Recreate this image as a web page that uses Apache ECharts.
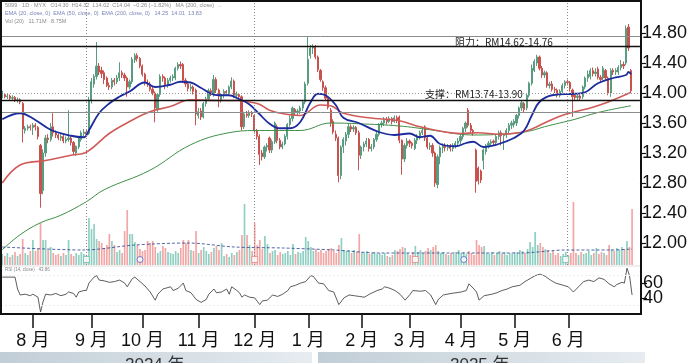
<!DOCTYPE html>
<html>
<head>
<meta charset="utf-8">
<script src="https://cdn.jsdelivr.net/npm/echarts@6/dist/echarts.min.js"></script>
<style>
html,body{margin:0;padding:0;background:#fff}
#main{width:690px;height:363px}
</style>
</head>
<body>
<div id="main"></div>
<script>
// axis ticks
var priceTicks = [12.0, 12.4, 12.8, 13.2, 13.6, 14.0, 14.4, 14.8];
var rsiTicks = [40, 60];
var rsiBands = [30, 70];
var monthIdx = [12, 35, 55, 77, 99, 120, 141, 160, 180, 201, 222];
var monthLbl = ['8 月', '9 月', '10 月', '11 月', '12 月', '1 月', '2 月', '3 月', '4 月', '5 月', '6 月'];
var slotCount = 251;

// daily candles [open, close, low, high]
var candles = [
 [13.96,13.98,13.93,14.03],[13.98,13.95,13.93,14.00],[13.95,13.96,13.92,13.99],[13.96,13.93,13.90,13.98],[13.93,13.94,13.90,13.97],[13.94,13.90,13.88,13.96],[13.90,13.91,13.87,13.94],[13.91,13.88,13.85,13.93],
 [13.86,13.52,13.34,13.88],[13.50,13.53,13.46,13.56],[13.53,13.55,13.50,13.58],[13.55,13.54,13.50,13.58],[13.54,13.57,13.44,13.60],[13.57,13.55,13.50,13.60],[13.54,13.42,13.38,13.56],[13.30,12.66,12.47,13.32],
 [12.70,13.20,12.65,13.25],[13.20,13.40,13.15,13.44],[13.40,13.38,13.33,13.45],[13.38,13.55,13.35,13.60],[13.55,13.47,13.42,13.73],[13.47,13.44,13.40,13.50],[13.44,13.40,13.37,13.46],[13.40,13.42,13.36,13.45],
 [13.42,13.36,13.33,13.44],[13.36,13.38,13.33,13.42],[13.38,13.40,13.35,13.77],[13.40,13.34,13.30,13.42],[13.34,13.22,13.17,13.36],[13.20,13.29,13.16,13.30],[13.28,13.40,13.25,13.42],[13.38,13.47,13.35,13.50],
 [13.46,13.48,13.42,13.52],[13.48,13.45,13.42,13.52],[13.46,13.90,13.44,13.95],[13.90,14.15,13.86,14.20],[14.12,14.22,14.07,14.25],[14.22,14.36,14.18,14.68],[14.36,14.28,14.24,14.40],[14.30,14.26,14.20,14.35],
 [14.27,14.18,14.12,14.30],[14.20,14.10,14.08,14.22],[14.10,14.08,14.04,14.14],[14.08,14.17,14.05,14.20],[14.17,14.15,14.10,14.20],[14.15,14.20,14.12,14.24],[14.20,14.27,14.16,14.41],[14.27,14.24,14.20,14.30],
 [14.24,14.20,14.16,14.27],[14.20,14.08,13.95,14.22],[14.08,14.15,14.05,14.18],[14.15,14.45,14.12,14.48],[14.44,14.50,14.40,14.53],[14.50,14.46,14.42,14.53],[14.46,14.36,14.33,14.48],[14.36,14.25,14.22,14.38],
 [14.25,14.14,14.10,14.27],[14.14,14.12,14.08,14.18],[14.12,14.05,14.02,14.15],[14.05,14.00,13.97,14.08],[14.00,13.80,13.61,14.02],[13.78,13.98,13.75,14.00],[13.98,14.22,13.95,14.25],[14.22,14.20,14.15,14.25],
 [14.20,14.10,14.05,14.22],[14.10,14.17,14.07,14.20],[14.17,14.20,14.14,14.23],[14.20,14.22,14.16,14.25],[14.20,14.33,14.17,14.35],[14.33,14.38,14.30,14.41],[14.38,14.36,14.32,14.42],[14.38,14.17,14.14,14.40],
 [14.17,14.12,14.08,14.20],[14.12,14.06,14.02,14.14],[14.06,14.08,14.02,14.12],[14.08,14.02,13.98,14.10],[14.04,13.72,13.57,14.06],[13.70,13.75,13.66,13.80],[13.76,13.68,13.64,13.80],[13.68,13.86,13.66,13.88],
 [13.86,13.92,13.82,13.95],[13.92,14.03,13.90,14.06],[14.03,14.00,13.96,14.06],[13.98,14.18,13.95,14.24],[14.18,14.04,14.00,14.21],[14.04,13.96,13.81,14.06],[13.90,13.98,13.87,14.00],[13.98,14.02,13.93,14.05],
 [14.02,14.00,13.96,14.04],[14.00,14.08,13.97,14.10],[14.08,14.16,14.05,14.21],[14.16,13.97,13.93,14.18],[13.97,13.98,13.92,14.02],[13.98,13.95,13.90,14.00],[13.95,13.55,13.50,13.97],[13.55,13.72,13.52,13.75],
 [13.72,13.70,13.67,13.76],[13.70,13.74,13.67,13.77],[13.74,13.72,13.68,13.76],[13.70,13.50,13.46,13.72],[13.50,13.42,13.38,13.52],[13.42,13.18,13.04,13.45],[13.20,13.15,13.10,13.24],[13.15,13.28,13.12,13.30],
 [13.28,13.30,13.22,13.33],[13.40,13.24,13.20,13.42],[13.24,13.35,13.20,13.38],[13.35,13.60,13.32,13.62],[13.55,13.37,13.33,13.58],[13.37,13.28,13.25,13.40],[13.28,13.32,13.25,13.35],[13.32,13.42,13.30,13.45],
 [13.42,13.58,13.38,13.60],[13.58,13.66,13.55,13.70],[13.66,13.80,13.62,13.82],[13.78,13.74,13.70,13.80],[13.74,13.76,13.70,13.79],[13.76,13.80,13.72,13.83],[13.80,13.88,13.76,13.90],[13.88,14.12,13.85,14.15],
 [14.13,14.45,14.10,14.75],[14.50,14.60,14.46,14.64],[14.60,14.62,14.52,14.65],[14.62,14.48,14.45,14.64],[14.48,14.31,14.28,14.50],[14.30,14.18,14.15,14.32],[14.15,14.07,14.03,14.17],[14.07,13.93,13.90,14.10],
 [13.93,13.81,13.78,13.96],[13.77,13.60,13.55,13.80],[13.62,13.48,13.45,13.65],[13.45,13.40,13.36,13.50],[13.40,12.90,12.81,13.42],[12.90,13.28,12.85,13.30],[13.28,13.38,13.20,13.41],[13.36,13.45,13.30,13.48],
 [13.45,13.55,13.40,13.60],[13.55,13.52,13.48,13.58],[13.52,13.54,13.48,13.57],[13.54,13.47,13.44,13.56],[13.47,13.17,12.97,13.50],[13.17,13.28,13.12,13.30],[13.28,13.32,13.22,13.35],[13.32,13.36,13.28,13.40],
 [13.38,13.26,13.22,13.40],[13.26,13.28,13.22,13.32],[13.28,13.38,13.25,13.40],[13.38,13.45,13.35,13.48],[13.45,13.58,13.42,13.60],[13.58,13.60,13.54,13.63],[13.60,13.65,13.56,13.68],[13.65,13.62,13.58,13.68],
 [13.62,13.66,13.60,13.69],[13.66,13.62,13.58,13.68],[13.62,13.67,13.60,13.70],[13.67,13.64,13.60,13.70],[13.68,13.37,13.33,13.70],[13.37,13.12,12.91,13.38],[13.12,13.30,13.08,13.33],[13.30,13.36,13.26,13.40],
 [13.36,13.33,13.28,13.38],[13.33,13.30,13.26,13.35],[13.26,13.37,13.24,13.40],[13.37,13.42,13.32,13.45],[13.42,13.47,13.38,13.50],[13.47,13.50,13.44,13.55],[13.55,13.40,13.36,13.57],[13.40,13.28,13.25,13.42],
 [13.28,13.30,13.24,13.34],[13.30,13.20,13.15,13.33],[13.20,12.80,12.75,13.22],[12.78,13.15,12.73,13.18],[13.15,13.27,13.05,13.30],[13.27,13.30,13.20,13.33],[13.30,13.27,13.22,13.33],[13.27,13.28,13.23,13.32],
 [13.30,13.26,13.22,13.32],[13.26,13.30,13.22,13.33],[13.30,13.33,13.26,13.36],[13.33,13.36,13.28,13.40],[13.36,13.42,13.32,13.45],[13.42,13.53,13.38,13.55],[13.53,13.60,13.48,13.62],[13.77,13.57,13.54,13.80],
 [13.57,13.50,13.46,13.60],[13.50,13.47,13.43,13.52],[13.24,12.82,12.67,13.26],[13.00,12.83,12.78,13.02],[12.96,12.84,12.80,12.98],[13.10,13.24,12.98,13.26],[13.22,13.30,13.18,13.32],[13.30,13.33,13.26,13.36],
 [13.33,13.35,13.30,13.38],[13.36,13.34,13.30,13.38],[13.34,13.42,13.30,13.44],[13.42,13.47,13.38,13.50],[13.47,13.43,13.30,13.50],[13.43,13.44,13.24,13.46],[13.44,13.50,13.40,13.53],[13.50,13.57,13.46,13.60],
 [13.57,13.60,13.52,13.63],[13.58,13.62,13.54,13.65],[13.60,13.70,13.56,13.72],[13.70,13.80,13.66,13.82],[13.80,13.87,13.76,13.90],[13.86,13.78,13.74,13.88],[13.80,13.97,13.77,14.00],[13.97,14.13,13.94,14.15],
 [14.13,14.33,14.10,14.38],[14.30,14.42,14.28,14.45],[14.40,14.48,14.36,14.51],[14.48,14.33,14.30,14.50],[14.33,14.24,14.20,14.36],[14.24,14.27,14.20,14.30],[14.27,14.10,14.07,14.29],[14.10,14.12,14.06,14.15],
 [14.12,14.05,14.02,14.16],[14.05,14.04,14.00,14.08],[14.04,13.97,13.94,14.06],[13.97,14.02,13.94,14.05],[14.02,14.10,13.98,14.13],[14.10,14.15,14.06,14.17],[14.15,14.14,14.10,14.18],[14.14,14.06,14.02,14.16],
 [14.04,13.95,13.68,14.06],[13.97,13.94,13.90,14.00],[13.94,13.96,13.90,13.98],[13.96,13.93,13.90,13.98],[13.95,14.08,13.92,14.10],[14.08,14.20,14.05,14.22],[14.20,14.25,14.15,14.30],[14.22,14.30,14.18,14.33],
 [14.30,14.26,14.22,14.34],[14.26,14.28,14.22,14.33],[14.32,14.21,14.18,14.35],[14.21,14.18,14.14,14.24],[14.20,14.33,14.17,14.36],[14.30,14.20,14.16,14.32],[14.20,14.00,13.97,14.22],[14.00,14.30,13.95,14.33],
 [14.30,14.28,14.24,14.33],[14.28,14.30,14.24,14.33],[14.28,14.34,14.24,14.37],[14.34,14.38,14.30,14.44],[14.38,14.36,14.32,14.42],[14.40,14.86,14.37,14.90],[14.88,14.60,14.56,14.92],[14.30,14.03,14.00,14.32]
];

// daily volume (relative units)
var volumes = [
 11,9,12,8,10,13,9,11,  26,12,10,14,25,14,16,42,  25,25,15,18,12,10,11,9,  12,10,25,11,9,12,10,13,
 11,10,47,36,41,26,24,22,  17,20,31,24,20,13,15,12,  34,55,31,31,23,20,16,14,  15,24,22,24,18,12,14,19,
 17,13,12,11,14,12,17,25,  22,25,15,14,34,12,15,18,  14,11,13,17,19,15,22,9,  11,8,12,10,13,15,30,61,
 30,20,14,42,20,25,16,29,  21,12,14,15,10,13,11,12,  14,10,21,11,13,12,14,28,  24,18,14,16,13,15,12,14,
 16,17,14,12,20,27,15,14,  15,12,15,13,31,13,12,14,  11,12,13,11,12,10,12,9,  8,10,15,14,16,18,17,12,
 10,13,19,13,15,12,14,17,  15,18,20,14,12,13,11,10,  12,11,13,15,12,13,11,14,  12,10,25,20,18,19,12,11,
 13,10,12,14,11,13,10,12,  11,13,12,15,14,12,16,23,  18,33,20,22,18,16,15,12,  14,10,12,9,11,13,10,12,
 63,12,10,13,11,12,14,10,  12,17,11,13,12,10,20,16,  14,17,15,18,16,24,18,56
];

// moving averages read at [day index, price]
var maFast = [[0,13.65],[7,13.73],[13,13.64],[19,13.51],[27,13.43],[32,13.41],[34,13.5],[38,13.73],[42,13.86],[46,13.95],[50,14.02],[56,14.14],[60,14.08],[66,14.11],[70,14.15],[74,14.14],[78,14.07],[82,13.99],[85,13.97],[89,13.97],[93,13.92],[97,13.85],[101,13.72],[105,13.59],[109,13.53],[113,13.53],[117,13.61],[121,13.87],[124,13.99],[127,13.97],[131,13.84],[134,13.67],[140,13.6],[148,13.48],[154,13.44],[160,13.46],[164,13.41],[168,13.43],[172,13.32],[178,13.29],[182,13.33],[185,13.35],[189,13.28],[195,13.32],[201,13.4],[205,13.5],[208,13.7],[211,13.88],[216,13.97],[225,13.99],[229,14.01],[234,14.13],[240,14.2],[245,14.24],[246,14.28],[247,14.25]];
var maMid = [[0,12.8],[7,13.04],[17,13.1],[27,13.17],[33,13.21],[42,13.46],[50,13.62],[58,13.75],[66,13.82],[74,13.91],[85,13.9],[93,13.9],[97,13.88],[101,13.85],[105,13.77],[111,13.72],[117,13.7],[125,13.84],[129,13.83],[134,13.73],[144,13.67],[156,13.63],[164,13.55],[174,13.48],[180,13.46],[187,13.47],[195,13.45],[203,13.47],[208,13.52],[213,13.6],[219,13.69],[225,13.75],[231,13.8],[238,13.88],[247,14.01]];
var maSlow = [[0,11.91],[7,12.11],[15,12.27],[23,12.37],[33,12.55],[40,12.71],[58,12.97],[74,13.31],[89,13.47],[101,13.5],[117,13.5],[129,13.6],[140,13.59],[156,13.56],[168,13.51],[180,13.45],[187,13.44],[196,13.45],[203,13.47],[208,13.5],[213,13.55],[219,13.6],[225,13.65],[234,13.74],[247,13.83]];
var volMa = [[0,18],[32,15],[52,20],[73,22],[91,18],[110,17],[130,15],[148,12],[170,12],[187,12],[203,12],[221,15],[239,15],[247,16]];

// RSI read at [day index, value]
var rsi = [[0,68],[5,68],[6,52],[7,44],[9,45],[11,43],[12,45],[14,41],[15,21],[16,35],[17,45],[19,44],[21,46],[23,43],[25,45],[26,48],[28,46],[29,41],[30,48],[32,50],[33,50],[34,60],[36,68],[37,70],[38,64],[40,63],[42,61],[44,62],[46,64],[48,60],[49,55],[51,66],[52,68],[54,62],[56,56],[58,48],[60,37],[61,45],[63,52],[64,53],[66,55],[67,50],[69,53],[71,60],[72,50],[74,47],[76,38],[78,34],[80,38],[81,45],[83,52],[84,47],[86,48],[88,52],[89,45],[90,55],[92,50],[93,47],[94,41],[95,44],[97,41],[99,40],[101,31],[102,36],[104,37],[106,44],[108,42],[110,45],[112,50],[113,55],[115,57],[117,60],[119,62],[121,70],[122,69],[124,60],[126,59],[128,50],[130,48],[132,31],[134,40],[136,44],[138,43],[140,42],[142,41],[144,45],[147,50],[149,52],[150,55],[152,53],[154,50],[156,45],[158,37],[160,45],[161,50],[164,49],[166,50],[168,44],[170,31],[171,38],[173,44],[176,46],[178,47],[180,48],[182,50],[183,59],[185,52],[186,48],[187,37],[189,43],[192,45],[194,47],[196,50],[198,52],[200,55],[203,57],[205,62],[207,66],[209,70],[211,72],[213,69],[215,64],[217,60],[220,57],[222,55],[224,48],[226,55],[228,62],[230,64],[232,62],[234,67],[236,65],[238,59],[240,55],[241,58],[243,61],[244,60],[245,80],[246,70],[247,44]];

// levels and markers
var resistance = [14.62, 14.76];
var support = [13.74, 13.90];
var lastPrice = 14.00;
var sessionIdx = [33, 99, 222];
var eventIdx = [33, 54, 99, 162, 181, 221];
var eventKind = ['D', 'E', 'S', 'S', 'E', 'D'];

var upColor = '#5a9c80', downColor = '#c8524e';
var volUp = '#8fd0c3', volDown = '#f3a6a6';
var axisFont = "'Liberation Sans Narrow','Arial Narrow','Liberation Sans','Noto Sans CJK SC',sans-serif";
var cjkFont = "'Noto Sans CJK SC',sans-serif";

var cats = [];
for (var i = 0; i < slotCount; i++) cats.push(String(i));

var volData = volumes.map(function (v, i) {
    var c = candles[i];
    return {value: v, itemStyle: {color: c[1] >= c[0] ? volUp : volDown}};
});

var kindStyle = {
    D: {symbol: 'rect', color: '#6cc0b0'},
    E: {symbol: 'circle', color: '#4a5fc8'},
    S: {symbol: 'rect', color: '#e88a8a'}
};
var eventData = eventIdx.map(function (idx, k) {
    var s = kindStyle[eventKind[k]];
    return {value: [idx, 5.5], symbol: s.symbol,
        itemStyle: {color: '#fff', borderColor: s.color, borderWidth: 1}};
});

var levelLines = [
    {yAxis: resistance[1], lineStyle: {color: '#8c8c8c', width: 1, type: 'solid'}},
    {yAxis: resistance[0], lineStyle: {color: '#111', width: 1.4, type: 'solid'}},
    {yAxis: support[1], lineStyle: {color: '#111', width: 1.4, type: 'solid'}},
    {yAxis: support[0], lineStyle: {color: '#8c8c8c', width: 1, type: 'solid'}},
    {yAxis: lastPrice, lineStyle: {color: '#9a9a9a', width: 1, type: [1, 2]}}
];
sessionIdx.forEach(function (idx) {
    levelLines.push({xAxis: idx, lineStyle: {color: '#8a8a8a', width: 1, type: [1, 2]}});
});

function isMonth(idx) { return monthIdx.indexOf(idx) >= 0; }

function hiddenX(g) {
    return {type: 'category', gridIndex: g, data: cats, boundaryGap: true, show: false};
}

// one RSI axis per tick so neither label gets dropped for overlap
function rsiAxis(tick) {
    return {
        type: 'value', gridIndex: 2, position: 'right', min: 17, max: 83,
        axisLine: {show: false}, splitLine: {show: false},
        axisTick: {show: true, length: 6, customValues: [tick], lineStyle: {color: '#111', width: 1.2}},
        axisLabel: {show: true, customValues: [tick], margin: 2, fontSize: 18, color: '#111',
            fontFamily: axisFont}
    };
}

function txt(x, y, s, size, color, font) {
    return {type: 'text', x: x, y: y, silent: true, z: 50,
        style: {text: s, fontSize: size, fill: color, fontFamily: font || axisFont, verticalAlign: 'top'}};
}

var chart = echarts.init(document.getElementById('main'));
chart.setOption({
    animation: false,
    grid: [
        {left: 1, right: 49, top: 3, height: 262},
        {left: 1, right: 49, top: 200, height: 65},
        {left: 1, right: 49, top: 266, height: 49}
    ],
    xAxis: [
        hiddenX(0),
        hiddenX(1),
        {
            type: 'category', gridIndex: 2, data: cats, boundaryGap: true,
            axisLine: {show: false},
            axisTick: {show: true, alignWithLabel: true, length: 13, interval: isMonth,
                lineStyle: {color: '#111', width: 1.5}},
            axisLabel: {show: true, interval: isMonth, margin: 17, fontSize: 18, color: '#111',
                fontFamily: axisFont,
                formatter: function (v, idx) { return monthLbl[monthIdx.indexOf(idx)] || ''; }},
            splitLine: {show: false}
        }
    ],
    yAxis: [
        {
            type: 'value', gridIndex: 0, position: 'right', min: 11.7067, max: 15.2,
            axisLine: {show: false}, splitLine: {show: false},
            axisTick: {show: true, length: 6, customValues: priceTicks, lineStyle: {color: '#111', width: 1.2}},
            axisLabel: {show: true, customValues: priceTicks, margin: 2, fontSize: 18, color: '#111',
                fontFamily: axisFont, formatter: function (v) { return v.toFixed(2); }}
        },
        {type: 'value', gridIndex: 1, min: 0, max: 65, show: false},
        rsiAxis(rsiTicks[1]),
        rsiAxis(rsiTicks[0])
    ],
    series: [
        {
            type: 'candlestick', xAxisIndex: 0, yAxisIndex: 0, data: candles, barWidth: 1.7,
            itemStyle: {color: upColor, color0: downColor, borderColor: upColor, borderColor0: downColor, borderWidth: 1},
            markLine: {silent: true, symbol: 'none', label: {show: false}, data: levelLines}
        },
        {type: 'line', xAxisIndex: 0, yAxisIndex: 0, data: maSlow, smooth: 0.4, showSymbol: false,
            lineStyle: {color: '#3f8f46', width: 1}},
        {type: 'line', xAxisIndex: 0, yAxisIndex: 0, data: maMid, smooth: 0.4, showSymbol: false,
            lineStyle: {color: '#d05c5a', width: 1.6}},
        {type: 'line', xAxisIndex: 0, yAxisIndex: 0, data: maFast, smooth: 0.4, showSymbol: false,
            lineStyle: {color: '#1c2c9e', width: 1.8}},
        {type: 'bar', xAxisIndex: 1, yAxisIndex: 1, data: volData, barWidth: 1.7, z: 1},
        {type: 'line', xAxisIndex: 1, yAxisIndex: 1, data: volMa, smooth: 0.3, showSymbol: false,
            lineStyle: {color: '#2a3f8a', width: 0.8, type: [3, 2]}},
        {type: 'scatter', xAxisIndex: 1, yAxisIndex: 1, data: eventData, symbolSize: 6, z: 5},
        {
            type: 'line', xAxisIndex: 2, yAxisIndex: 2, data: rsi, showSymbol: false,
            lineStyle: {color: '#333', width: 0.8},
            markLine: {silent: true, symbol: 'none', label: {show: false},
                data: rsiBands.map(function (b) { return {yAxis: b}; }),
                lineStyle: {color: '#ececec', width: 1, type: [2, 2]}}
        }
    ],
    graphic: [
        {type: 'rect', shape: {x: 1, y: 1, width: 640, height: 313}, silent: true, z: 60,
            style: {fill: 'none', stroke: '#111', lineWidth: 2}},
        {type: 'line', shape: {x1: 2, y1: 266, x2: 640, y2: 266}, silent: true, z: 40,
            style: {stroke: '#dedede', lineWidth: 1}},
        txt(5, 3, '5099 · 1D · MYX   O14.30  H14.32  L14.02  C14.04  −0.26 (−1.82%)   MA (200, close)  ...', 5.5, '#8a8a8a'),
        txt(5, 11, 'EMA (20, close, 0)  EMA (50, close, 0)  EMA (200, close, 0)   14.25  14.01  13.83', 5.5, '#7a84b8'),
        txt(5, 19, 'Vol (20)   11.71M   8.75M', 5.5, '#8a8a8a'),
        txt(5, 268, 'RSI (14, close)   43.86', 4.5, '#888'),
        txt(455, 37, '阻力：RM14.62-14.76', 10, '#222', cjkFont),
        txt(425, 89, '支撑：RM13.74-13.90', 10, '#222', cjkFont),
        {type: 'rect', shape: {x: 0, y: 352, width: 312, height: 11}, silent: true,
            style: {fill: new echarts.graphic.LinearGradient(0, 0, 1, 0, [
                {offset: 0, color: '#c2ced7'}, {offset: 1, color: '#e6ecf0'}])}},
        {type: 'rect', shape: {x: 318, y: 352, width: 327, height: 11}, silent: true,
            style: {fill: new echarts.graphic.LinearGradient(0, 0, 1, 0, [
                {offset: 0, color: '#c2ced7'}, {offset: 1, color: '#e6ecf0'}])}},
        txt(125, 357, '2024 年', 17, '#333', axisFont),
        txt(450, 357, '2025 年', 17, '#333', axisFont)
    ]
});
</script>
</body>
</html>
